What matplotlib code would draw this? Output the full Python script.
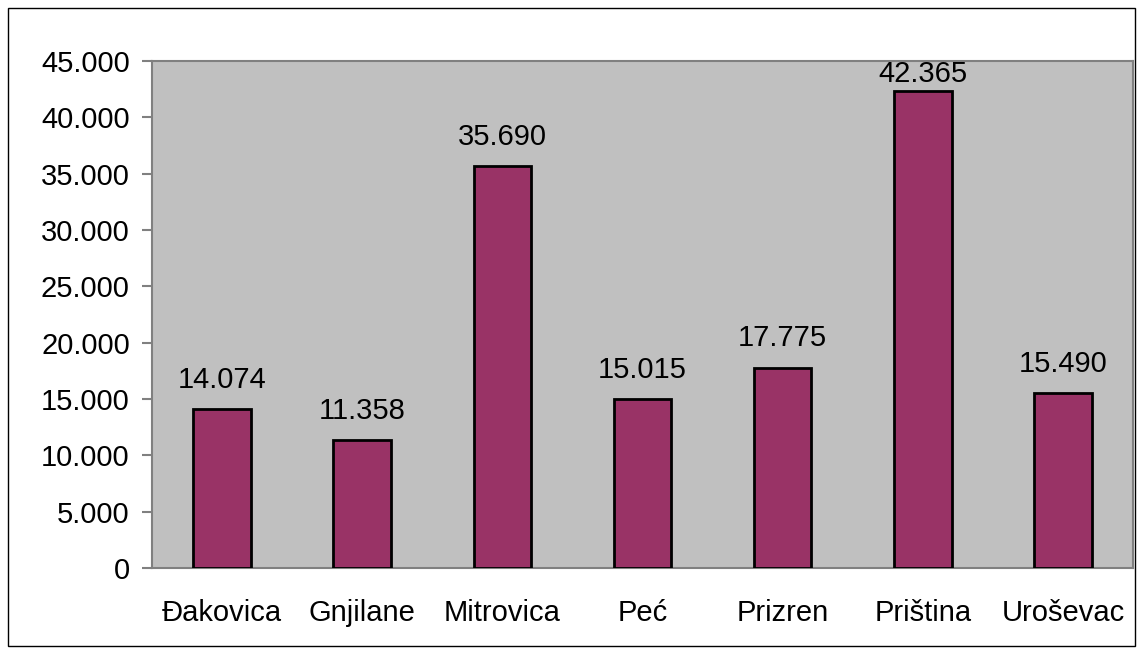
import matplotlib.pyplot as plt
from matplotlib.patches import Rectangle

cities = ['Đakovica', 'Gnjilane', 'Mitrovica', 'Peć', 'Prizren', 'Priština', 'Uroševac']
values = [14074, 11358, 35690, 15015, 17775, 42365, 15490]
yticks = [0, 5000, 10000, 15000, 20000, 25000, 30000, 35000, 40000, 45000]

plt.rcParams['font.family'] = ['Liberation Sans', 'DejaVu Sans']
plt.rcParams['font.size'] = 21

def fmt(v):
    return '{:,}'.format(v).replace(',', '.')

fig = plt.figure(figsize=(11.43, 6.54), dpi=100)
ax = fig.add_axes([152/1143, 1 - 568/654, (1133-152)/1143, (568-61)/654])
ax.set_facecolor('#C0C0C0')

ymax = 45000
x = range(len(cities))
ax.bar(x, values, width=0.41, color='#993366', edgecolor='black', linewidth=2, zorder=3)
for xi, v in zip(x, values):
    # labels that would stick out above the plot are pushed inside it, as excel does
    if v > ymax * 0.9:
        ax.annotate(fmt(v), (xi, ymax), xytext=(0, 1), textcoords='offset points',
                    ha='center', va='top')
    else:
        ax.annotate(fmt(v), (xi, v), xytext=(0, 11), textcoords='offset points',
                    ha='center', va='bottom')

ax.set_xlim(-0.5, len(cities) - 0.5)
ax.set_ylim(0, ymax)
ax.set_yticks(yticks)
ax.set_yticklabels([fmt(t) for t in yticks])
ax.set_xticks(list(x))
ax.set_xticklabels(cities)
ax.tick_params(axis='x', length=0, pad=22)
ax.tick_params(axis='y', length=7.5, width=1.5, color='#808080', pad=8.5)
for s in ax.spines.values():
    s.set_color('#808080')
    s.set_linewidth(1.5)

fig.patches.append(Rectangle((8/1143, 8/654), 1 - 16/1143, 1 - 16/654,
                             transform=fig.transFigure, fill=False,
                             edgecolor='black', linewidth=1))

fig.savefig('out.png', dpi=100)
